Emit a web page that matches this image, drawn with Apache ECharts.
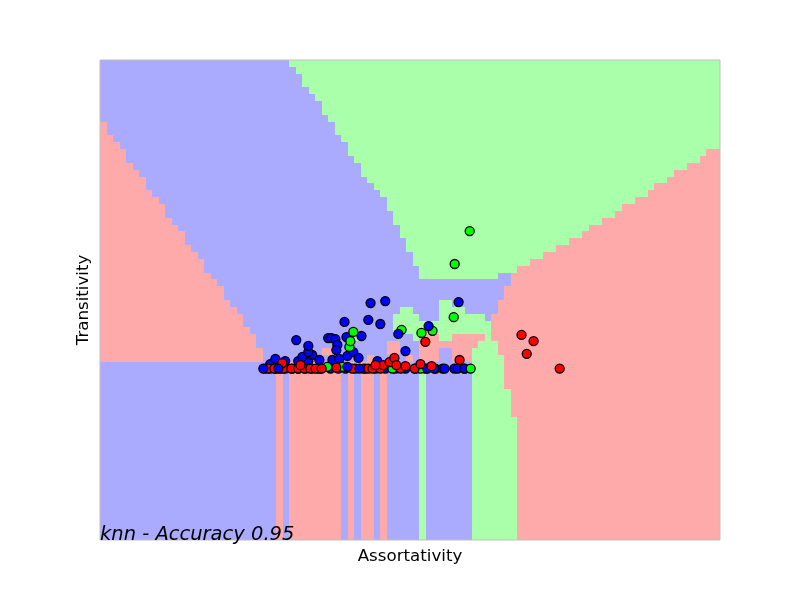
<!DOCTYPE html>
<html>
<head>
<meta charset="utf-8">
<style>html,body{margin:0;padding:0;background:#fff}#c{width:800px;height:600px}</style>
<script src="https://cdn.jsdelivr.net/npm/echarts@6/dist/echarts.min.js"></script>
</head>
<body>
<div id="c"></div>
<script>
const titleText = "knn - Accuracy 0.95";
const xName = "Assortativity";
const yName = "Transitivity";
const meshStep = 0.02;
const xMin = -1, xMax = 0.9018, yMin = -0.5, yMax = 0.9;
const regionColors = { r: "#FFAAAA", g: "#AAFFAA", b: "#AAAAFF" };
const pointColors = { r: "#FF0000", g: "#00FF00", b: "#0000FF" };

// Decision regions: one string per mesh row from the top; each token is class + first mesh column.
const lowerStripes = "b0 r27 b28 r29 b37 r38 b39 r40 b42 r43 b44 g49 b50 g57 ";
const regionRows = [
"b0 g29","b0 g30","b0 g31","b0 g31","b0 g32","b0 g33","b0 g34","b0 g34","b0 g35",
"r0 b1 g36","r0 b1 g36","r0 b2 g37","r0 b3 g38","r0 b4 g38 r93","r0 b4 g39 r92",
"r0 b5 g40 r90","r0 b6 g40 r88","r0 b7 g41 r87","r0 b7 g42 r85","r0 b8 g43 r84",
"r0 b9 g44 r82","r0 b10 g44 r80","r0 b10 g45 r79","r0 b11 g45 r77","r0 b12 g46 r75",
"r0 b13 g46 r74","r0 b13 g47 r72","r0 b14 g47 r70","r0 b15 g48 r68","r0 b16 g48 r66",
"r0 b16 g49 r64","r0 b17 g49 b61 r63","r0 b18 r63","r0 b19 r62","r0 b19 r62",
"r0 b20 g52 b54 r61","r0 b21 g46 b48 g52 b56 r61","r0 b22 g45 b49 g52 b59 r60",
"r0 b22 g45 r60","r0 b23 g45 r60","r0 b24 g39 b40 g48 r49 g52 r54 g59 r60",
"r0 b24 r44 b46 r49 g58 r61","r0 b25 r34 b36 r44 b46 r49 b52 r54 g57 r61",
"r0 b25 r41 b42 r47 b48 r49 b52 r54 g57 r62",
lowerStripes+"r62",lowerStripes+"r62",lowerStripes+"r62",lowerStripes+"r62",
lowerStripes+"r63",lowerStripes+"r63",lowerStripes+"r63",lowerStripes+"r63",
lowerStripes+"r64",lowerStripes+"r64",lowerStripes+"r64",lowerStripes+"r64",lowerStripes+"r64",lowerStripes+"r64",
lowerStripes+"r64",lowerStripes+"r64",lowerStripes+"r64",lowerStripes+"r64",lowerStripes+"r64",lowerStripes+"r64",
lowerStripes+"r64",lowerStripes+"r64",lowerStripes+"r64",lowerStripes+"r64",lowerStripes+"r64",lowerStripes+"r64"
];

// Points in drawing order.
const pointClass = [
"b","b","b","b","b","b","b","b","b","b","b","b","b","b","b","b","b","b","b","b","b","b",
"g","g",
"b","b","b","b","b","b","b","b","b","b","b","b","b","b","b","b","b","b","b","b","b","b","b","b","b","b","b","b","b","b","b","b","b",
"g","g","g","g","g","g","g",
"g","g","g","g","g",
"r","r","r","r","r","r","r","r","r","r","r","r","r","r","r","r","r",
"r","r","r","r","r","r","r","r","r","r",
"r","r","r","r",
"b","b","b","b","b","b","b","b","b","b",
"r","r","b",
"b","g"
];
const pointX = [
-.493,-.478,-.462,-.447,-.432,-.410,-.392,-.370,-.349,-.324,-.293,-.269,-.247,-.217,-.186,-.155,-.125,-.094,-.063,-.032,-.002,.029,
-.075,.020,
-.478,-.462,-.432,-.392,-.361,-.379,-.349,-.361,-.361,-.398,-.287,-.266,-.327,-.300,-.290,-.278,-.272,-.275,-.244,-.241,-.223,-.207,-.250,-.198,-.177,-.140,-.170,-.125,-.085,-.063,.008,.100,-.149,
.134,.088,.085,-.014,-.223,-.235,-.232,
-.330,-.303,-.257,-.103,-.017,
-.484,-.465,-.438,-.413,-.392,-.373,-.355,-.339,-.320,-.275,-.226,-.192,-.177,-.164,-.140,-.078,-.131,
-.441,-.385,-.112,-.097,-.091,-.155,-.063,-.035,-.002,.103,
.293,.330,.309,.410,
-.453,-.241,-.204,.004,.026,.051,.057,.087,.097,.118,
-.017,.017,-.499,
.118,.137
];
const pointY = [
0,0,0,0,0,0,0,0,0,0,0,0,0,0,0,0,0,0,0,0,0,0,
.113,.110,
.013,.028,.022,.022,.022,.034,.040,.048,.066,.083,.025,.028,.025,.089,.089,.086,.069,.054,.092,.037,.048,.031,.136,.095,.142,.130,.191,.197,.101,.051,.124,.194,.022,
.401,.305,.150,.104,.107,.063,.080,
0,.005,.005,0,0,
0,0,0,0,0,0,0,0,0,.003,0,0,0,0,0,0,.010,
.016,.010,.019,.031,.010,.010,.007,0,.078,.025,
.098,.080,.043,0,
0,.005,0,0,0,0,0,0,0,0,
.013,.007,0,
0,0
];

const regionRuns = [];
regionRows.forEach((row, r) => {
  const tokens = row.trim().split(/\s+/);
  tokens.forEach((t, i) => {
    const cls = t[0], first = +t.slice(1);
    const x0 = xMin + first * meshStep;
    const x1 = i + 1 < tokens.length ? xMin + (+tokens[i + 1].slice(1)) * meshStep : xMax;
    const yTop = yMax - r * meshStep;
    regionRuns.push({ value: [x0, x1, yTop, yTop - meshStep], cls });
  });
});

const chart = echarts.init(document.getElementById("c"), null, { renderer: "canvas" });
chart.setOption({
  animation: false,
  backgroundColor: "#fff",
  textStyle: { fontFamily: "DejaVu Sans" },
  title: {
    text: titleText, left: 100, top: 525, padding: 0, z: 20,
    textStyle: { fontFamily: "DejaVu Sans", fontStyle: "italic", fontWeight: "normal", fontSize: 19.5, color: "#000" }
  },
  grid: { left: 100, right: 80, top: 60, bottom: 60, show: true, z: 5, backgroundColor: "transparent", borderColor: "#bfbfbf", borderWidth: 1 },
  xAxis: {
    type: "value", min: xMin, max: xMax, name: xName, nameLocation: "middle", nameGap: 8,
    nameTextStyle: { fontFamily: "DejaVu Sans", fontSize: 16.67, color: "#000" },
    axisLabel: { show: false }, axisTick: { show: false }, axisLine: { show: false }, splitLine: { show: false }
  },
  yAxis: {
    type: "value", min: yMin, max: yMax, name: yName, nameLocation: "middle", nameGap: 8,
    nameTextStyle: { fontFamily: "DejaVu Sans", fontSize: 16.67, color: "#000" },
    axisLabel: { show: false }, axisTick: { show: false }, axisLine: { show: false }, splitLine: { show: false }
  },
  series: [
    {
      type: "custom", silent: true, z: 1, progressive: 0, clip: false,
      data: regionRuns.map(d => ({ value: d.value, itemStyle: { color: regionColors[d.cls] } })),
      renderItem: (params, api) => {
        const a = api.coord([api.value(0), api.value(2)]);
        const b = api.coord([api.value(1), api.value(3)]);
        const x = Math.round(a[0]), y = Math.round(a[1]);
        return {
          type: "rect",
          shape: { x, y, width: Math.round(b[0]) - x, height: Math.round(b[1]) - y },
          style: { fill: api.visual("color") }
        };
      }
    },
    {
      type: "scatter", z: 10, silent: true, symbolSize: 9, clip: false, progressive: 0, large: false,
      data: pointX.map((x, i) => ({
        value: [x, pointY[i]],
        itemStyle: { color: pointColors[pointClass[i]], borderColor: "#000", borderWidth: 1.3, opacity: 1 }
      }))
    }
  ]
});
</script>
</body>
</html>
